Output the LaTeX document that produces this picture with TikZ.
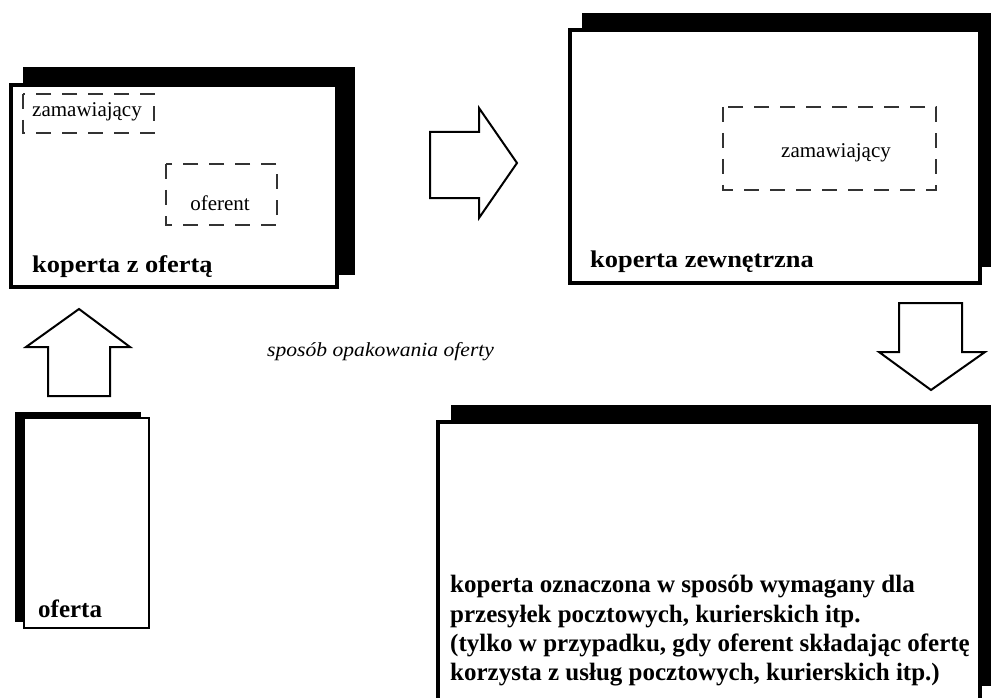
\documentclass[tikz,border=0pt]{standalone}
\usepackage{fontspec}
\usepackage{graphicx}
\setmainfont{Liberation Serif}
\begin{document}
\begin{tikzpicture}[x=1pt,y=-1pt,
  shadowfill/.style={fill=black,draw=none},
  envelope/.style={fill=white,draw=black,line width=3.5pt},
  pagebox/.style={fill=white,draw=black,line width=1.6pt},
  dashbox/.style={draw=black!80,line width=1.6pt,dash pattern=on 15pt off 11pt},
  blockarrow/.style={draw=black,line width=2pt,fill=white,line join=miter},
  boldlabel/.style={font=\fontsize{25}{29}\selectfont\bfseries,inner sep=0pt,anchor=base west},
  titlelabel/.style={font=\fontsize{24}{29}\selectfont\bfseries,inner sep=0pt,anchor=base west},
  thinlabel/.style={font=\fontsize{21}{25}\selectfont,inner sep=0pt},
  caption/.style={font=\fontsize{20}{24}\selectfont\itshape,inner sep=0pt,anchor=base west}]
\useasboundingbox (0,0) rectangle (991,698);
\clip (0,0) rectangle (991,698);

% top-left envelope
\fill[shadowfill] (23,67) rectangle (355,275);
\draw[envelope] (11,85) rectangle (337,287);
\draw[dashbox] (23,94) rectangle (154,133);
\node[thinlabel] (zam1) at (87,112) {zamawiający};
\draw[dashbox] (166,164) rectangle (277,225);
\node[thinlabel] (of1) at (220,203) {oferent};
\node[titlelabel] (kzo) at (32,272) {\scalebox{1.1}[1]{koperta z ofertą}};

% right arrow
\draw[blockarrow] (430,132) -- (479,132) -- (479,108) -- (517,163) -- (479,218) -- (479,198) -- (430,198) -- cycle;

% top-right envelope
\fill[shadowfill] (582,13) rectangle (1000,267);
\draw[envelope] (570,30) rectangle (980,283);
\draw[dashbox] (723,107) rectangle (936,190);
\node[thinlabel] (zam2) at (836,153) {zamawiający};
\node[titlelabel] (kzew) at (590,267) {\scalebox{1.1}[1]{koperta zewnętrzna}};

% down arrow
\draw[blockarrow] (899,303) -- (962,303) -- (962,352) -- (985,352) -- (931,390) -- (879,352) -- (899,352) -- cycle;

% bottom-right envelope
\fill[shadowfill] (451,405) rectangle (1000,686);
\draw[envelope] (438,422) rectangle (980,705);
\node[boldlabel] (l1) at (450,592) {koperta oznaczona w sposób wymagany dla};
\node[boldlabel] (l2) at (450,622) {przesyłek pocztowych, kurierskich itp.};
\node[boldlabel] (l3) at (450,651) {(tylko w przypadku, gdy oferent składając ofertę};
\node[boldlabel] (l4) at (450,680) {korzysta z usług pocztowych, kurierskich itp.)};

% up arrow
\draw[blockarrow] (48,396) -- (48,347) -- (26,347) -- (79,309) -- (130,347) -- (110,347) -- (110,396) -- cycle;

% offer page
\fill[shadowfill] (15,412) rectangle (141,622);
\draw[pagebox] (24,418) rectangle (149,628);
\node[boldlabel] (of) at (38,617) {oferta};

% caption
\node[caption] (cap) at (267,356) {\scalebox{1.08}[1]{sposób opakowania oferty}};
\end{tikzpicture}
\end{document}
